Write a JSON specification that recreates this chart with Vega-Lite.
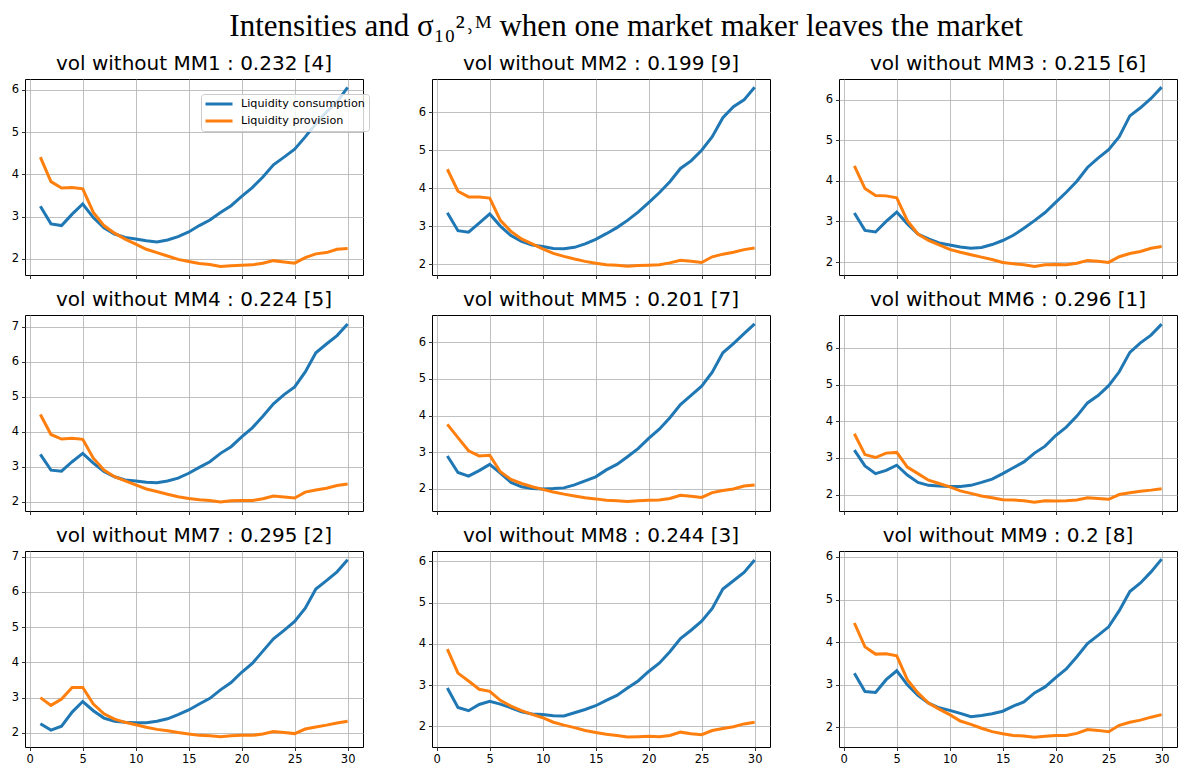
{
"$schema": "https://vega.github.io/schema/vega-lite/v6.json",
"padding": {"left": 10, "top": 10, "right": 2, "bottom": 2},
"title": {"text": "Intensities and σ₁₀²˒ᴹ when one market maker leaves the market", "font": "Liberation Serif", "fontSize": 31, "fontWeight": "normal", "color": "#000", "anchor": "middle", "dx": 32, "offset": 11},
"bounds": "flush",
"spacing": {"row": 40, "column": 69},
"columns": 3,
"data": {"values": [
{"m":1,"t":1,"c":3.25,"p":4.41},{"m":1,"t":2,"c":2.83,"p":3.83},{"m":1,"t":3,"c":2.79,"p":3.68},{"m":1,"t":4,"c":3.06,"p":3.69},{"m":1,"t":5,"c":3.30,"p":3.66},{"m":1,"t":6,"c":2.98,"p":3.10},{"m":1,"t":7,"c":2.74,"p":2.79},{"m":1,"t":8,"c":2.59,"p":2.61},{"m":1,"t":9,"c":2.51,"p":2.47},{"m":1,"t":10,"c":2.47,"p":2.35},{"m":1,"t":11,"c":2.43,"p":2.23},{"m":1,"t":12,"c":2.40,"p":2.15},{"m":1,"t":13,"c":2.45,"p":2.07},{"m":1,"t":14,"c":2.53,"p":1.99},{"m":1,"t":15,"c":2.64,"p":1.94},{"m":1,"t":16,"c":2.79,"p":1.89},{"m":1,"t":17,"c":2.92,"p":1.87},{"m":1,"t":18,"c":3.10,"p":1.82},{"m":1,"t":19,"c":3.26,"p":1.84},{"m":1,"t":20,"c":3.48,"p":1.85},{"m":1,"t":21,"c":3.69,"p":1.86},{"m":1,"t":22,"c":3.94,"p":1.90},{"m":1,"t":23,"c":4.23,"p":1.96},{"m":1,"t":24,"c":4.41,"p":1.93},{"m":1,"t":25,"c":4.60,"p":1.90},{"m":1,"t":26,"c":4.89,"p":2.03},{"m":1,"t":27,"c":5.20,"p":2.12},{"m":1,"t":28,"c":5.48,"p":2.15},{"m":1,"t":29,"c":5.72,"p":2.23},{"m":1,"t":30,"c":6.06,"p":2.25},
{"m":2,"t":1,"c":3.35,"p":4.50},{"m":2,"t":2,"c":2.88,"p":3.92},{"m":2,"t":3,"c":2.84,"p":3.77},{"m":2,"t":4,"c":3.08,"p":3.77},{"m":2,"t":5,"c":3.32,"p":3.74},{"m":2,"t":6,"c":3.00,"p":3.15},{"m":2,"t":7,"c":2.75,"p":2.86},{"m":2,"t":8,"c":2.60,"p":2.66},{"m":2,"t":9,"c":2.50,"p":2.53},{"m":2,"t":10,"c":2.46,"p":2.40},{"m":2,"t":11,"c":2.41,"p":2.28},{"m":2,"t":12,"c":2.40,"p":2.20},{"m":2,"t":13,"c":2.44,"p":2.13},{"m":2,"t":14,"c":2.53,"p":2.07},{"m":2,"t":15,"c":2.65,"p":2.02},{"m":2,"t":16,"c":2.80,"p":1.98},{"m":2,"t":17,"c":2.96,"p":1.97},{"m":2,"t":18,"c":3.15,"p":1.94},{"m":2,"t":19,"c":3.37,"p":1.96},{"m":2,"t":20,"c":3.62,"p":1.97},{"m":2,"t":21,"c":3.88,"p":1.98},{"m":2,"t":22,"c":4.17,"p":2.03},{"m":2,"t":23,"c":4.52,"p":2.10},{"m":2,"t":24,"c":4.72,"p":2.07},{"m":2,"t":25,"c":5.00,"p":2.04},{"m":2,"t":26,"c":5.36,"p":2.19},{"m":2,"t":27,"c":5.86,"p":2.26},{"m":2,"t":28,"c":6.15,"p":2.31},{"m":2,"t":29,"c":6.33,"p":2.38},{"m":2,"t":30,"c":6.66,"p":2.42},
{"m":3,"t":1,"c":3.21,"p":4.37},{"m":3,"t":2,"c":2.78,"p":3.81},{"m":3,"t":3,"c":2.74,"p":3.64},{"m":3,"t":4,"c":3.00,"p":3.63},{"m":3,"t":5,"c":3.23,"p":3.58},{"m":3,"t":6,"c":2.94,"p":3.02},{"m":3,"t":7,"c":2.69,"p":2.69},{"m":3,"t":8,"c":2.57,"p":2.53},{"m":3,"t":9,"c":2.47,"p":2.42},{"m":3,"t":10,"c":2.42,"p":2.31},{"m":3,"t":11,"c":2.37,"p":2.24},{"m":3,"t":12,"c":2.34,"p":2.18},{"m":3,"t":13,"c":2.36,"p":2.12},{"m":3,"t":14,"c":2.43,"p":2.06},{"m":3,"t":15,"c":2.53,"p":1.99},{"m":3,"t":16,"c":2.66,"p":1.96},{"m":3,"t":17,"c":2.83,"p":1.93},{"m":3,"t":18,"c":3.02,"p":1.89},{"m":3,"t":19,"c":3.22,"p":1.93},{"m":3,"t":20,"c":3.47,"p":1.94},{"m":3,"t":21,"c":3.72,"p":1.93},{"m":3,"t":22,"c":3.99,"p":1.97},{"m":3,"t":23,"c":4.33,"p":2.04},{"m":3,"t":24,"c":4.56,"p":2.02},{"m":3,"t":25,"c":4.77,"p":1.99},{"m":3,"t":26,"c":5.09,"p":2.13},{"m":3,"t":27,"c":5.60,"p":2.21},{"m":3,"t":28,"c":5.80,"p":2.26},{"m":3,"t":29,"c":6.03,"p":2.34},{"m":3,"t":30,"c":6.31,"p":2.38},
{"m":4,"t":1,"c":3.35,"p":4.49},{"m":4,"t":2,"c":2.90,"p":3.92},{"m":4,"t":3,"c":2.87,"p":3.79},{"m":4,"t":4,"c":3.14,"p":3.81},{"m":4,"t":5,"c":3.38,"p":3.78},{"m":4,"t":6,"c":3.10,"p":3.24},{"m":4,"t":7,"c":2.86,"p":2.90},{"m":4,"t":8,"c":2.71,"p":2.71},{"m":4,"t":9,"c":2.62,"p":2.59},{"m":4,"t":10,"c":2.59,"p":2.48},{"m":4,"t":11,"c":2.55,"p":2.36},{"m":4,"t":12,"c":2.54,"p":2.29},{"m":4,"t":13,"c":2.59,"p":2.21},{"m":4,"t":14,"c":2.67,"p":2.14},{"m":4,"t":15,"c":2.81,"p":2.09},{"m":4,"t":16,"c":2.98,"p":2.05},{"m":4,"t":17,"c":3.14,"p":2.03},{"m":4,"t":18,"c":3.38,"p":1.99},{"m":4,"t":19,"c":3.57,"p":2.02},{"m":4,"t":20,"c":3.85,"p":2.03},{"m":4,"t":21,"c":4.11,"p":2.03},{"m":4,"t":22,"c":4.44,"p":2.08},{"m":4,"t":23,"c":4.80,"p":2.16},{"m":4,"t":24,"c":5.06,"p":2.13},{"m":4,"t":25,"c":5.28,"p":2.10},{"m":4,"t":26,"c":5.71,"p":2.27},{"m":4,"t":27,"c":6.26,"p":2.33},{"m":4,"t":28,"c":6.51,"p":2.38},{"m":4,"t":29,"c":6.75,"p":2.46},{"m":4,"t":30,"c":7.08,"p":2.50},
{"m":5,"t":1,"c":2.90,"p":3.76},{"m":5,"t":2,"c":2.45,"p":3.40},{"m":5,"t":3,"c":2.35,"p":3.04},{"m":5,"t":4,"c":2.50,"p":2.90},{"m":5,"t":5,"c":2.67,"p":2.92},{"m":5,"t":6,"c":2.43,"p":2.47},{"m":5,"t":7,"c":2.18,"p":2.26},{"m":5,"t":8,"c":2.06,"p":2.15},{"m":5,"t":9,"c":2.01,"p":2.06},{"m":5,"t":10,"c":2.00,"p":1.99},{"m":5,"t":11,"c":2.01,"p":1.92},{"m":5,"t":12,"c":2.03,"p":1.86},{"m":5,"t":13,"c":2.11,"p":1.81},{"m":5,"t":14,"c":2.22,"p":1.76},{"m":5,"t":15,"c":2.33,"p":1.73},{"m":5,"t":16,"c":2.52,"p":1.69},{"m":5,"t":17,"c":2.67,"p":1.68},{"m":5,"t":18,"c":2.88,"p":1.66},{"m":5,"t":19,"c":3.10,"p":1.68},{"m":5,"t":20,"c":3.38,"p":1.69},{"m":5,"t":21,"c":3.63,"p":1.70},{"m":5,"t":22,"c":3.94,"p":1.74},{"m":5,"t":23,"c":4.30,"p":1.83},{"m":5,"t":24,"c":4.55,"p":1.80},{"m":5,"t":25,"c":4.80,"p":1.77},{"m":5,"t":26,"c":5.18,"p":1.90},{"m":5,"t":27,"c":5.71,"p":1.96},{"m":5,"t":28,"c":5.96,"p":2.00},{"m":5,"t":29,"c":6.23,"p":2.08},{"m":5,"t":30,"c":6.50,"p":2.11},
{"m":6,"t":1,"c":3.21,"p":3.66},{"m":6,"t":2,"c":2.78,"p":3.09},{"m":6,"t":3,"c":2.57,"p":3.01},{"m":6,"t":4,"c":2.66,"p":3.13},{"m":6,"t":5,"c":2.80,"p":3.15},{"m":6,"t":6,"c":2.53,"p":2.75},{"m":6,"t":7,"c":2.33,"p":2.57},{"m":6,"t":8,"c":2.25,"p":2.39},{"m":6,"t":9,"c":2.23,"p":2.30},{"m":6,"t":10,"c":2.22,"p":2.21},{"m":6,"t":11,"c":2.22,"p":2.10},{"m":6,"t":12,"c":2.25,"p":2.03},{"m":6,"t":13,"c":2.33,"p":1.96},{"m":6,"t":14,"c":2.42,"p":1.91},{"m":6,"t":15,"c":2.57,"p":1.86},{"m":6,"t":16,"c":2.73,"p":1.85},{"m":6,"t":17,"c":2.89,"p":1.83},{"m":6,"t":18,"c":3.13,"p":1.79},{"m":6,"t":19,"c":3.32,"p":1.83},{"m":6,"t":20,"c":3.61,"p":1.82},{"m":6,"t":21,"c":3.84,"p":1.83},{"m":6,"t":22,"c":4.14,"p":1.85},{"m":6,"t":23,"c":4.50,"p":1.91},{"m":6,"t":24,"c":4.70,"p":1.89},{"m":6,"t":25,"c":4.97,"p":1.87},{"m":6,"t":26,"c":5.35,"p":2.00},{"m":6,"t":27,"c":5.88,"p":2.05},{"m":6,"t":28,"c":6.14,"p":2.09},{"m":6,"t":29,"c":6.35,"p":2.12},{"m":6,"t":30,"c":6.65,"p":2.16},
{"m":7,"t":1,"c":2.26,"p":3.00},{"m":7,"t":2,"c":2.08,"p":2.78},{"m":7,"t":3,"c":2.19,"p":2.96},{"m":7,"t":4,"c":2.59,"p":3.29},{"m":7,"t":5,"c":2.89,"p":3.29},{"m":7,"t":6,"c":2.63,"p":2.82},{"m":7,"t":7,"c":2.42,"p":2.54},{"m":7,"t":8,"c":2.33,"p":2.39},{"m":7,"t":9,"c":2.30,"p":2.30},{"m":7,"t":10,"c":2.29,"p":2.23},{"m":7,"t":11,"c":2.29,"p":2.16},{"m":7,"t":12,"c":2.33,"p":2.10},{"m":7,"t":13,"c":2.40,"p":2.06},{"m":7,"t":14,"c":2.52,"p":2.01},{"m":7,"t":15,"c":2.65,"p":1.97},{"m":7,"t":16,"c":2.82,"p":1.93},{"m":7,"t":17,"c":2.98,"p":1.92},{"m":7,"t":18,"c":3.22,"p":1.89},{"m":7,"t":19,"c":3.43,"p":1.92},{"m":7,"t":20,"c":3.72,"p":1.93},{"m":7,"t":21,"c":3.97,"p":1.93},{"m":7,"t":22,"c":4.32,"p":1.97},{"m":7,"t":23,"c":4.67,"p":2.04},{"m":7,"t":24,"c":4.91,"p":2.01},{"m":7,"t":25,"c":5.16,"p":1.98},{"m":7,"t":26,"c":5.54,"p":2.11},{"m":7,"t":27,"c":6.08,"p":2.17},{"m":7,"t":28,"c":6.32,"p":2.22},{"m":7,"t":29,"c":6.57,"p":2.28},{"m":7,"t":30,"c":6.91,"p":2.33},
{"m":8,"t":1,"c":2.93,"p":3.87},{"m":8,"t":2,"c":2.46,"p":3.29},{"m":8,"t":3,"c":2.38,"p":3.10},{"m":8,"t":4,"c":2.53,"p":2.90},{"m":8,"t":5,"c":2.61,"p":2.85},{"m":8,"t":6,"c":2.54,"p":2.63},{"m":8,"t":7,"c":2.45,"p":2.49},{"m":8,"t":8,"c":2.35,"p":2.38},{"m":8,"t":9,"c":2.30,"p":2.29},{"m":8,"t":10,"c":2.29,"p":2.21},{"m":8,"t":11,"c":2.26,"p":2.10},{"m":8,"t":12,"c":2.25,"p":2.03},{"m":8,"t":13,"c":2.33,"p":1.97},{"m":8,"t":14,"c":2.41,"p":1.90},{"m":8,"t":15,"c":2.50,"p":1.85},{"m":8,"t":16,"c":2.63,"p":1.81},{"m":8,"t":17,"c":2.75,"p":1.78},{"m":8,"t":18,"c":2.93,"p":1.74},{"m":8,"t":19,"c":3.10,"p":1.75},{"m":8,"t":20,"c":3.33,"p":1.76},{"m":8,"t":21,"c":3.53,"p":1.75},{"m":8,"t":22,"c":3.81,"p":1.78},{"m":8,"t":23,"c":4.13,"p":1.86},{"m":8,"t":24,"c":4.33,"p":1.82},{"m":8,"t":25,"c":4.55,"p":1.80},{"m":8,"t":26,"c":4.86,"p":1.90},{"m":8,"t":27,"c":5.33,"p":1.95},{"m":8,"t":28,"c":5.53,"p":1.99},{"m":8,"t":29,"c":5.73,"p":2.06},{"m":8,"t":30,"c":6.03,"p":2.10},
{"m":9,"t":1,"c":3.27,"p":4.45},{"m":9,"t":2,"c":2.84,"p":3.89},{"m":9,"t":3,"c":2.82,"p":3.72},{"m":9,"t":4,"c":3.12,"p":3.73},{"m":9,"t":5,"c":3.33,"p":3.68},{"m":9,"t":6,"c":3.00,"p":3.12},{"m":9,"t":7,"c":2.75,"p":2.81},{"m":9,"t":8,"c":2.57,"p":2.57},{"m":9,"t":9,"c":2.46,"p":2.43},{"m":9,"t":10,"c":2.40,"p":2.30},{"m":9,"t":11,"c":2.33,"p":2.15},{"m":9,"t":12,"c":2.25,"p":2.07},{"m":9,"t":13,"c":2.28,"p":1.98},{"m":9,"t":14,"c":2.32,"p":1.90},{"m":9,"t":15,"c":2.38,"p":1.85},{"m":9,"t":16,"c":2.50,"p":1.81},{"m":9,"t":17,"c":2.60,"p":1.80},{"m":9,"t":18,"c":2.81,"p":1.77},{"m":9,"t":19,"c":2.95,"p":1.79},{"m":9,"t":20,"c":3.17,"p":1.81},{"m":9,"t":21,"c":3.37,"p":1.81},{"m":9,"t":22,"c":3.66,"p":1.86},{"m":9,"t":23,"c":3.97,"p":1.95},{"m":9,"t":24,"c":4.16,"p":1.93},{"m":9,"t":25,"c":4.36,"p":1.90},{"m":9,"t":26,"c":4.74,"p":2.05},{"m":9,"t":27,"c":5.19,"p":2.12},{"m":9,"t":28,"c":5.39,"p":2.17},{"m":9,"t":29,"c":5.65,"p":2.24},{"m":9,"t":30,"c":5.95,"p":2.30}
]},
"concat": [
{"title": "vol without MM1 : 0.232 [4]", "width": 338, "height": 196,
 "transform": [{"filter": "datum.m == 1"}, {"fold": ["c", "p"], "as": ["s", "v"]}],
 "mark": {"type": "line", "strokeWidth": 3},
 "encoding": {
  "x": {"field": "t", "type": "quantitative", "scale": {"domain": [-0.45, 31.45], "nice": false, "zero": false}, "axis": {"values": [0,5,10,15,20,25,30], "labels": false, "title": null}},
  "y": {"field": "v", "type": "quantitative", "scale": {"domain": [1.62, 6.26], "nice": false, "zero": false}, "axis": {"values": [2,3,4,5,6], "title": null}},
  "color": {"field": "s", "type": "nominal", "scale": {"domain": ["c", "p"], "range": ["#1f77b4", "#ff7f0e"]},
   "legend": {"orient": "none", "legendX": 176, "legendY": 15, "title": null, "labelExpr": "datum.value == 'c' ? 'Liquidity consumption' : 'Liquidity provision'", "symbolType": "M-3,0H3", "symbolSize": 81, "symbolStrokeWidth": 3, "symbolOffset": 8, "fillColor": "rgba(255,255,255,0.8)", "strokeColor": "#cccccc", "cornerRadius": 3, "padding": 4, "labelFont": "DejaVu Sans", "labelFontSize": 11.2, "labelColor": "#000", "labelOffset": 16, "rowPadding": 5}}
 }},
{"title": "vol without MM2 : 0.199 [9]", "width": 338, "height": 196,
 "transform": [{"filter": "datum.m == 2"}, {"fold": ["c", "p"], "as": ["s", "v"]}],
 "mark": {"type": "line", "strokeWidth": 3},
 "encoding": {
  "x": {"field": "t", "type": "quantitative", "scale": {"domain": [-0.45, 31.45], "nice": false, "zero": false}, "axis": {"values": [0,5,10,15,20,25,30], "labels": false, "title": null}},
  "y": {"field": "v", "type": "quantitative", "scale": {"domain": [1.71, 6.88], "nice": false, "zero": false}, "axis": {"values": [2,3,4,5,6], "title": null}},
  "color": {"field": "s", "type": "nominal", "scale": {"domain": ["c", "p"], "range": ["#1f77b4", "#ff7f0e"]}, "legend": null}
 }},
{"title": "vol without MM3 : 0.215 [6]", "width": 338, "height": 196,
 "transform": [{"filter": "datum.m == 3"}, {"fold": ["c", "p"], "as": ["s", "v"]}],
 "mark": {"type": "line", "strokeWidth": 3},
 "encoding": {
  "x": {"field": "t", "type": "quantitative", "scale": {"domain": [-0.45, 31.45], "nice": false, "zero": false}, "axis": {"values": [0,5,10,15,20,25,30], "labels": false, "title": null}},
  "y": {"field": "v", "type": "quantitative", "scale": {"domain": [1.68, 6.51], "nice": false, "zero": false}, "axis": {"values": [2,3,4,5,6], "title": null}},
  "color": {"field": "s", "type": "nominal", "scale": {"domain": ["c", "p"], "range": ["#1f77b4", "#ff7f0e"]}, "legend": null}
 }},
{"title": "vol without MM4 : 0.224 [5]", "width": 338, "height": 196,
 "transform": [{"filter": "datum.m == 4"}, {"fold": ["c", "p"], "as": ["s", "v"]}],
 "mark": {"type": "line", "strokeWidth": 3},
 "encoding": {
  "x": {"field": "t", "type": "quantitative", "scale": {"domain": [-0.45, 31.45], "nice": false, "zero": false}, "axis": {"values": [0,5,10,15,20,25,30], "labels": false, "title": null}},
  "y": {"field": "v", "type": "quantitative", "scale": {"domain": [1.73, 7.34], "nice": false, "zero": false}, "axis": {"values": [2,3,4,5,6,7], "title": null}},
  "color": {"field": "s", "type": "nominal", "scale": {"domain": ["c", "p"], "range": ["#1f77b4", "#ff7f0e"]}, "legend": null}
 }},
{"title": "vol without MM5 : 0.201 [7]", "width": 338, "height": 196,
 "transform": [{"filter": "datum.m == 5"}, {"fold": ["c", "p"], "as": ["s", "v"]}],
 "mark": {"type": "line", "strokeWidth": 3},
 "encoding": {
  "x": {"field": "t", "type": "quantitative", "scale": {"domain": [-0.45, 31.45], "nice": false, "zero": false}, "axis": {"values": [0,5,10,15,20,25,30], "labels": false, "title": null}},
  "y": {"field": "v", "type": "quantitative", "scale": {"domain": [1.40, 6.74], "nice": false, "zero": false}, "axis": {"values": [2,3,4,5,6], "title": null}},
  "color": {"field": "s", "type": "nominal", "scale": {"domain": ["c", "p"], "range": ["#1f77b4", "#ff7f0e"]}, "legend": null}
 }},
{"title": "vol without MM6 : 0.296 [1]", "width": 338, "height": 196,
 "transform": [{"filter": "datum.m == 6"}, {"fold": ["c", "p"], "as": ["s", "v"]}],
 "mark": {"type": "line", "strokeWidth": 3},
 "encoding": {
  "x": {"field": "t", "type": "quantitative", "scale": {"domain": [-0.45, 31.45], "nice": false, "zero": false}, "axis": {"values": [0,5,10,15,20,25,30], "labels": false, "title": null}},
  "y": {"field": "v", "type": "quantitative", "scale": {"domain": [1.55, 6.90], "nice": false, "zero": false}, "axis": {"values": [2,3,4,5,6], "title": null}},
  "color": {"field": "s", "type": "nominal", "scale": {"domain": ["c", "p"], "range": ["#1f77b4", "#ff7f0e"]}, "legend": null}
 }},
{"title": "vol without MM7 : 0.295 [2]", "width": 338, "height": 196,
 "transform": [{"filter": "datum.m == 7"}, {"fold": ["c", "p"], "as": ["s", "v"]}],
 "mark": {"type": "line", "strokeWidth": 3},
 "encoding": {
  "x": {"field": "t", "type": "quantitative", "scale": {"domain": [-0.45, 31.45], "nice": false, "zero": false}, "axis": {"values": [0,5,10,15,20,25,30], "title": null}},
  "y": {"field": "v", "type": "quantitative", "scale": {"domain": [1.60, 7.16], "nice": false, "zero": false}, "axis": {"values": [2,3,4,5,6,7], "title": null}},
  "color": {"field": "s", "type": "nominal", "scale": {"domain": ["c", "p"], "range": ["#1f77b4", "#ff7f0e"]}, "legend": null}
 }},
{"title": "vol without MM8 : 0.244 [3]", "width": 338, "height": 196,
 "transform": [{"filter": "datum.m == 8"}, {"fold": ["c", "p"], "as": ["s", "v"]}],
 "mark": {"type": "line", "strokeWidth": 3},
 "encoding": {
  "x": {"field": "t", "type": "quantitative", "scale": {"domain": [-0.45, 31.45], "nice": false, "zero": false}, "axis": {"values": [0,5,10,15,20,25,30], "title": null}},
  "y": {"field": "v", "type": "quantitative", "scale": {"domain": [1.50, 6.25], "nice": false, "zero": false}, "axis": {"values": [2,3,4,5,6], "title": null}},
  "color": {"field": "s", "type": "nominal", "scale": {"domain": ["c", "p"], "range": ["#1f77b4", "#ff7f0e"]}, "legend": null}
 }},
{"title": "vol without MM9 : 0.2 [8]", "width": 338, "height": 196,
 "transform": [{"filter": "datum.m == 9"}, {"fold": ["c", "p"], "as": ["s", "v"]}],
 "mark": {"type": "line", "strokeWidth": 3},
 "encoding": {
  "x": {"field": "t", "type": "quantitative", "scale": {"domain": [-0.45, 31.45], "nice": false, "zero": false}, "axis": {"values": [0,5,10,15,20,25,30], "title": null}},
  "y": {"field": "v", "type": "quantitative", "scale": {"domain": [1.54, 6.14], "nice": false, "zero": false}, "axis": {"values": [2,3,4,5,6], "title": null}},
  "color": {"field": "s", "type": "nominal", "scale": {"domain": ["c", "p"], "range": ["#1f77b4", "#ff7f0e"]}, "legend": null}
 }}
],
"resolve": {"scale": {"color": "independent", "x": "independent", "y": "independent"}, "legend": {"color": "independent"}},
"config": {
 "view": {"stroke": "#000", "strokeWidth": 1},
 "axis": {"grid": true, "gridColor": "#b0b0b0", "gridWidth": 0.8, "domain": false, "tickColor": "#000", "tickSize": 3.5, "tickWidth": 0.8, "labelFont": "DejaVu Sans", "labelFontSize": 11.5, "labelColor": "#000", "labelPadding": 3, "labelFlush": false},
 "title": {"font": "DejaVu Sans", "fontSize": 20, "fontWeight": "normal", "color": "#000", "baseline": "alphabetic", "offset": 5}
}
}
